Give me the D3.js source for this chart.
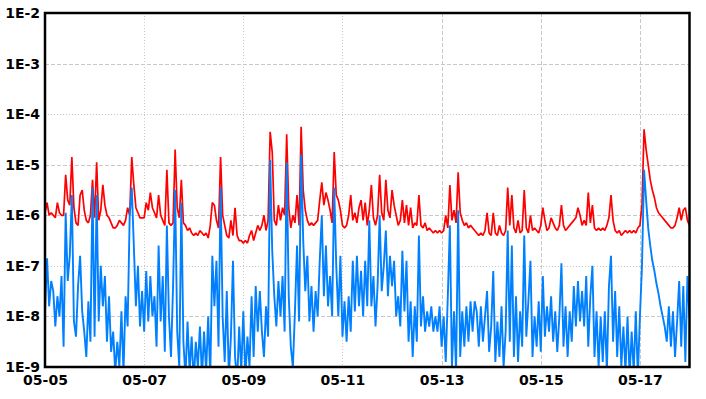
<!DOCTYPE html>
<html>
<head>
<meta charset="utf-8">
<script src="https://cdn.jsdelivr.net/npm/d3@7"></script>
<style>
  html, body { margin: 0; padding: 0; background: #fff; }
  .xrs-axis text { font-family: "DejaVu Sans", sans-serif; font-weight: bold; font-size: 14px; fill: #000; }
</style>
</head>
<body>
<div class="xrs-main"></div>
<script>
// hourly samples, log10 of flux (W/m2), starting 05-05 00:00 UTC
const startTime = '2024-05-05T00:00:00Z';
const endTime = '2024-05-18T00:00:00Z';

const longFlux = [
  -5.95, -5.75, -6.0, -5.95, -6.0, -6.05, -5.75, -5.95, -6.0, -6.0,
  -5.2, -5.7, -5.8, -4.85, -5.85, -6.15, -6.2, -5.6, -5.5, -5.9,
  -6.1, -6.15, -6.0, -5.3, -6.05, -4.95, -6.1, -5.9, -5.4, -5.8,
  -6.0, -6.05, -6.15, -6.25, -6.25, -6.2, -6.1, -6.15, -6.2, -6.1,
  -5.85, -6.0, -4.85, -5.4, -5.85, -5.95, -6.05, -6.05, -6.05, -5.75,
  -5.9, -5.55, -5.85,
  -5.95, -6.05, -5.6, -6.0, -6.1, -6.2, -5.1,
  -6.15, -6.2, -6.15, -4.7, -5.85, -6.05, -5.3, -6.15, -6.2, -6.3,
  -6.25, -6.35, -6.4, -6.35, -6.4, -6.3, -6.35, -6.4, -6.35, -6.45,
  -6.2, -5.75, -5.8, -6.1, -6.25, -4.85, -6.0, -6.2, -6.4, -6.45,
  -6.1, -6.4, -5.85, -6.4, -6.5, -6.5, -6.55, -6.5, -6.55, -6.4,
  -6.3, -6.5, -6.35, -6.2, -6.3,
  -6.2, -6.0, -6.3, -6.1, -4.35,
  -4.75, -6.1, -6.2, -5.8, -6.1, -5.85, -6.0, -4.4, -5.85, -6.25,
  -6.0, -6.15, -5.6, -6.2, -4.25, -5.5, -5.9, -6.1, -6.2, -6.15,
  -6.2, -6.15, -6.1, -5.7, -5.35, -5.8, -5.55, -5.7, -5.9, -6.15,
  -4.75, -5.6, -5.7, -5.9, -6.2, -6.25, -6.2, -6.0, -5.6, -6.1,
  -5.95, -6.15, -5.85, -5.7, -6.1, -5.75, -6.2,
  -5.9, -5.4, -6.05,
  -6.2, -6.0, -5.2, -5.95, -6.1, -5.3, -5.9, -6.05, -5.5, -5.8,
  -6.0, -6.2, -6.1, -5.7, -6.15, -5.8, -6.2, -5.85, -6.25, -6.15,
  -6.2, -5.6, -6.2, -6.25, -6.15, -6.3, -6.25, -6.3, -6.35, -6.3,
  -6.35, -6.3, -6.35, -6.3, -6.0, -6.25, -5.4, -6.1, -5.9, -6.15,
  -5.15, -5.95, -6.1, -6.2, -6.15, -6.25, -6.2, -6.25, -6.3,
  -6.35, -6.4, -6.35, -6.4, -6.3, -5.95, -6.35, -6.4, -5.95, -6.35, -6.4,
  -6.2, -6.35, -6.4, -6.3, -5.45, -6.2, -5.6, -6.25, -6.35, -6.1,
  -6.35, -6.3, -5.5, -6.25, -6.35, -6.0, -6.3, -6.25, -6.3, -6.35,
  -6.2, -5.85, -6.1, -6.3, -6.25, -6.05, -6.15, -6.25, -6.3, -6.2,
  -5.8, -6.2, -6.3, -6.25, -6.2, -6.15, -6.1, -6.05, -5.85, -6.0, -6.2,
  -6.1, -6.2, -5.55, -6.15, -5.8, -6.25, -6.3, -6.25, -6.3,
  -6.25, -6.3, -6.2, -6.05, -5.6, -6.1, -6.3, -6.35, -6.3, -6.4,
  -6.35, -6.3, -6.35, -6.3, -6.35, -6.3, -6.35, -6.25, -6.2, -5.8,
  -4.3, -4.7, -5.0, -5.3, -5.5, -5.65, -5.85, -5.95, -6.0, -6.05,
  -6.1, -6.15, -6.2, -6.25, -6.25, -6.2, -6.05, -5.85, -6.1, -5.9, -5.85, -6.1, -6.2
];

const shortFlux = [
  -7.9, -6.85, -7.8, -7.3, -7.5, -8.2, -7.6, -8.0, -7.2, -8.6,
  -5.95, -7.3, -6.8, -5.6, -8.1, -8.4, -7.4, -6.8, -7.9, -8.3,
  -8.8, -7.7, -8.5, -5.45, -8.4, -5.6, -8.1, -7.0, -7.8, -7.2,
  -8.5, -7.6, -8.7, -8.3, -9.1, -8.5, -9.0, -7.9, -9.1, -7.6,
  -8.2, -6.0, -5.45, -6.6, -7.8, -7.0, -8.2, -7.5, -8.3, -7.1,
  -8.1, -7.2, -8.0,
  -7.6, -8.6, -6.6, -8.1, -7.2, -8.7, -6.2,
  -8.0, -8.8, -7.4, -5.5, -8.3, -9.0, -5.75, -8.5, -9.2, -8.1,
  -9.1, -8.4, -9.3, -8.5, -9.0, -8.2, -9.2, -8.3, -9.1, -8.0,
  -9.2, -6.8, -7.8, -6.9, -8.6, -5.45, -8.0, -8.9, -7.5, -9.2,
  -8.4, -6.9, -8.8, -9.3, -8.2, -9.1, -7.9, -9.2, -8.4, -9.0,
  -7.6, -8.8, -7.4, -8.3, -7.5,
  -8.3, -8.8, -7.8, -8.4, -4.9,
  -6.7, -7.6, -8.2, -7.3, -8.0, -7.2, -8.3, -4.95, -7.6, -8.6,
  -9.0, -7.9, -6.6, -8.1, -4.8, -6.5, -7.5, -6.8, -8.1, -7.4,
  -8.3, -7.5, -8.0, -6.9, -6.0, -7.6, -6.6, -7.8, -7.2, -8.0,
  -5.45, -7.0, -8.0, -6.8, -8.4, -7.7, -8.5, -7.6, -8.3, -6.9,
  -7.9, -6.8, -7.8, -7.1, -8.0, -6.9, -7.8,
  -6.1, -7.8, -7.2,
  -8.2, -7.4, -6.0, -7.5, -7.0, -6.3, -7.6, -6.8, -7.4, -6.9,
  -8.0, -7.6, -8.2, -6.7, -7.9, -6.9, -8.5, -7.7, -8.8, -7.8,
  -8.5, -6.4, -8.2, -7.6, -8.3, -7.9, -8.2, -7.8, -8.3, -8.0,
  -8.3, -7.8, -8.6, -8.0, -8.9, -7.6, -6.2, -9.0, -7.9, -9.1,
  -5.9, -8.8, -7.9, -8.6, -7.8, -8.5, -7.7, -8.3, -7.7,
  -7.9, -8.6, -7.8, -8.5, -8.0, -7.5, -8.7, -8.2, -7.1, -8.9, -8.1,
  -8.8, -7.8, -9.0, -8.3, -6.3, -8.5, -6.6, -8.8, -7.6, -8.9,
  -7.9, -8.6, -6.4, -8.4, -7.7, -6.9, -8.8, -8.0, -8.6, -7.7,
  -8.7, -7.2, -8.4, -7.8, -8.3, -7.6, -8.5, -7.9, -8.7, -8.0,
  -6.95, -8.6, -7.8, -8.8, -7.9, -8.5, -7.4, -8.2, -7.3, -8.1, -7.5,
  -8.2, -7.2, -8.6, -7.6, -7.0, -8.8, -7.9, -9.0, -8.0,
  -8.9, -7.9, -9.1, -7.4, -6.8, -8.5, -7.5, -8.8, -7.8, -9.0,
  -8.2, -9.1, -8.0, -9.2, -8.3, -9.1, -7.9, -9.2, -8.0, -7.0,
  -5.1, -5.7, -6.25, -6.6, -6.9, -7.1, -7.35, -7.55, -7.8, -8.0,
  -8.2, -8.5, -7.8, -8.6, -7.9, -8.8, -8.1, -7.3, -8.6, -7.4, -8.9, -7.2, -8.0
];

const yTicks = [1e-2, 1e-3, 1e-4, 1e-5, 1e-6, 1e-7, 1e-8, 1e-9];
const xTickLabels = ['05-05', '05-07', '05-09', '05-11', '05-13', '05-15', '05-17'];
// grid look per line (dashed / dotted as in the source)
const yGridStyle = { '-3': 'dash', '-4': 'dot', '-5': 'dash', '-6': 'dash', '-7': 'dot', '-8': 'dash' };
const xGridStyle = ['dot', 'dot', 'dot', 'dash', 'dash', 'dash'];

const widthSvg = 706;
const heightSvg = 399;
const margin = { top: 13, right: 16.5, bottom: 32, left: 45 };
const widthChart = widthSvg - margin.left - margin.right;
const heightChart = heightSvg - margin.top - margin.bottom;

const t0 = new Date(startTime);
const toPoints = arr => arr.map((v, i) => ({ t: d3.utcHour.offset(t0, i), v: Math.pow(10, v) }));

const scaleX = d3.scaleUtc()
  .domain([t0, new Date(endTime)])
  .range([0, widthChart]);

const scaleY = d3.scaleLog()
  .domain([1e-9, 1e-2])
  .range([heightChart, 0]);

const svg = d3.select('.xrs-main')
  .append('svg')
  .attr('width', widthSvg)
  .attr('height', heightSvg);

const g = svg.append('g')
  .attr('transform', `translate(${margin.left}, ${margin.top})`);

g.append('defs').append('clipPath')
  .attr('id', 'plot-clip')
  .append('rect')
  .attr('width', widthChart)
  .attr('height', heightChart);

const dashFor = s => (s === 'dash' ? '4,2' : '1,2');

// horizontal grid
const yGridTicks = yTicks.filter(d => d > 1e-9 && d < 1e-2);
g.append('g')
  .selectAll('line')
  .data(yGridTicks)
  .enter()
  .append('line')
  .attr('x1', 0)
  .attr('x2', widthChart)
  .attr('y1', d => Math.round(scaleY(d)) + 0.5)
  .attr('y2', d => Math.round(scaleY(d)) + 0.5)
  .attr('stroke', '#c8c8c8')
  .attr('stroke-width', 1)
  .attr('stroke-dasharray', d => dashFor(yGridStyle[Math.round(Math.log10(d))]));

// vertical grid
const xTicks = xTickLabels.map(s => new Date(`2024-${s}T00:00:00Z`));
g.append('g')
  .selectAll('line')
  .data(xTicks.slice(1))
  .enter()
  .append('line')
  .attr('x1', d => Math.round(scaleX(d)) + 0.5)
  .attr('x2', d => Math.round(scaleX(d)) + 0.5)
  .attr('y1', 0)
  .attr('y2', heightChart)
  .attr('stroke', '#c8c8c8')
  .attr('stroke-width', 1)
  .attr('stroke-dasharray', (d, i) => dashFor(xGridStyle[i]));

const line = d3.line()
  .x(d => scaleX(d.t))
  .y(d => scaleY(d.v));

const plot = g.append('g').attr('clip-path', 'url(#plot-clip)');

plot.append('path')
  .datum(toPoints(longFlux))
  .attr('fill', 'none')
  .attr('stroke', '#ff0000')
  .attr('stroke-width', 1.7)
  .attr('stroke-linejoin', 'bevel')
  .attr('d', line);

plot.append('path')
  .datum(toPoints(shortFlux))
  .attr('fill', 'none')
  .attr('stroke', '#0080ff')
  .attr('stroke-width', 1.9)
  .attr('stroke-linejoin', 'bevel')
  .attr('d', line);

// frame
g.append('rect')
  .attr('width', widthChart)
  .attr('height', heightChart)
  .attr('fill', 'none')
  .attr('stroke', '#000')
  .attr('stroke-width', 2.5);

const axisY = d3.axisLeft(scaleY)
  .tickValues(yTicks)
  .tickSize(0)
  .tickPadding(5)
  .tickFormat(d => `1E${Math.round(Math.log10(d))}`);

const axisX = d3.axisBottom(scaleX)
  .tickValues(xTicks)
  .tickSize(0)
  .tickPadding(8)
  .tickFormat(d3.utcFormat('%m-%d'));

const groupAxisY = g.append('g')
  .attr('class', 'xrs-axis')
  .call(axisY);

const groupAxisX = g.append('g')
  .attr('class', 'xrs-axis')
  .attr('transform', `translate(0, ${heightChart})`)
  .call(axisX);

groupAxisY.select('.domain').remove();
groupAxisX.select('.domain').remove();
svg.selectAll('.xrs-axis')
  .attr('font-family', null)
  .attr('font-size', null);
</script>
</body>
</html>
